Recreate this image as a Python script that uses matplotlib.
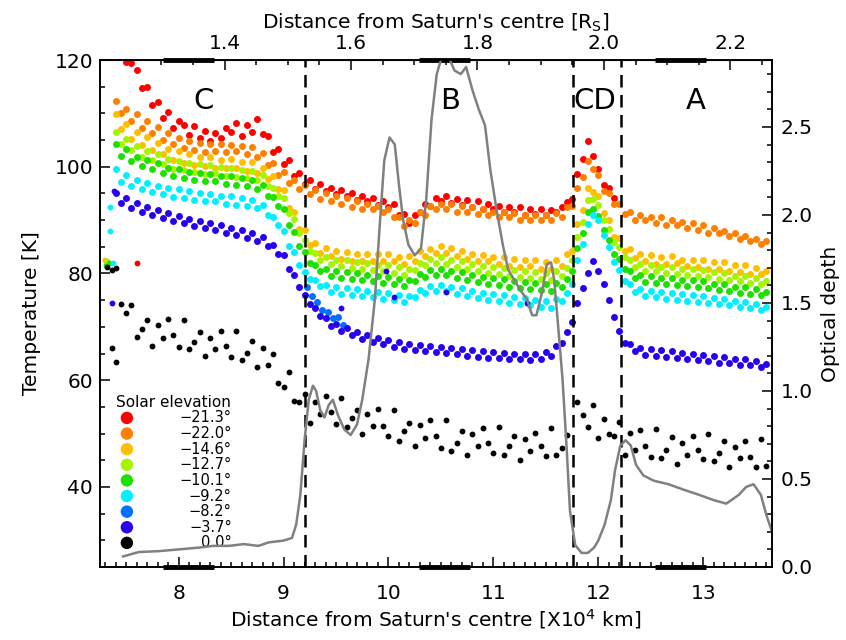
import numpy as np, matplotlib; matplotlib.use("Agg")
import matplotlib.pyplot as plt
from matplotlib.ticker import MultipleLocator, FixedLocator, FormatStrFormatter

nan = float("nan")
RS = 6.0268  # Saturn radius in 10^4 km

# ring-plane distance grid [10^4 km]
dist = [7.40, 7.45, 7.50, 7.55, 7.60, 7.65, 7.70, 7.75, 7.80, 7.85,
        7.90, 7.95, 8.00, 8.05, 8.10, 8.15, 8.20, 8.25, 8.30, 8.35,
        8.40, 8.45, 8.50, 8.55, 8.60, 8.65, 8.70, 8.75, 8.80, 8.85,
        8.90, 8.95, 9.00, 9.05, 9.10, 9.15, 9.20, 9.25, 9.30, 9.35,
        9.40, 9.45, 9.50, 9.55, 9.60, 9.65, 9.70, 9.75, 9.80, 9.85,
        9.90, 9.95, 10.00, 10.05, 10.10, 10.15, 10.20, 10.25, 10.30, 10.35,
        10.40, 10.45, 10.50, 10.55, 10.60, 10.65, 10.70, 10.75, 10.80, 10.85,
        10.90, 10.95, 11.00, 11.05, 11.10, 11.15, 11.20, 11.25, 11.30, 11.35,
        11.40, 11.45, 11.50, 11.55, 11.60, 11.65, 11.70, 11.75, 11.80, 11.85,
        11.90, 11.95, 12.00, 12.05, 12.10, 12.15, 12.20, 12.25, 12.30, 12.35,
        12.40, 12.45, 12.50, 12.55, 12.60, 12.65, 12.70, 12.75, 12.80, 12.85,
        12.90, 12.95, 13.00, 13.05, 13.10, 13.15, 13.20, 13.25, 13.30, 13.35,
        13.40, 13.45, 13.50, 13.55, 13.60]

elev = [-21.3, -22.0, -14.6, -12.7, -10.1, -9.2, -8.2, -3.7, 0.0]
colors = ["#ff0000", "#ff7f00", "#ffbf00", "#a6f500", "#1ee000",
          "#00f0ff", "#0070ff", "#2800f0", "#000000"]

t_213 = [nan, 121.8, 119.6, 119.5, 118.2, 114.7, 114.9, 111.6, 112.2, 109.1,
         110.3, 107.2, 108.6, 107.9, 106.0, 107.6, 105.4, 106.7, 104.8, 106.3,
         105.4, 107.3, 106.5, 108.2, 105.7, 107.9, 106.6, 108.9, 106.2, 105.8,
         102.8, 103.4, 100.6, 101.3, 98.3, 98.9, 96.8, 97.6, 95.9, 96.7,
         95.4, 96.1, 94.8, 95.6, 94.5, 95.1, 93.8, 94.6, 93.5, 94.2,
         92.9, 93.6, 92.4, 93.1, 91.0, 91.2, 89.4, 90.9, 91.5, 93.0,
         92.6, 94.1, 93.5, 94.6, 93.2, 94.0, 92.9, 93.7, 92.5, 93.5,
         92.0, 93.1, 92.1, 92.6, 91.5, 92.5, 91.6, 92.4, 91.0, 92.1,
         91.1, 92.0, 91.0, 91.9, 91.6, 92.5, 93.4, 94.0, 98.6, 101.5,
         104.8, 102.0, 99.5, 96.6, 96.0, 94.1, nan, nan, nan, nan,
         nan, nan, nan, nan, nan, nan, nan, nan, nan, nan,
         nan, nan, nan, nan, nan, nan, nan, nan, nan, nan,
         nan, nan, nan, nan, nan]

t_220 = [112.4, 110.1, 110.9, 108.6, 109.8, 107.2, 108.6, 106.3, 107.5, 105.1,
         106.3, 104.2, 105.4, 103.6, 104.9, 103.1, 104.4, 102.7, 104.2, 103.0,
         104.3, 102.8, 104.1, 102.9, 103.8, 102.3, 103.7, 101.8, 102.6, 100.4,
         100.7, 98.4, 99.1, 96.9, 97.6, 95.9, 96.6, 94.9, 95.6, 94.0,
         95.1, 93.5, 94.6, 93.0, 94.1, 92.5, 93.5, 92.0, 93.1, 92.0,
         92.6, 91.5, 92.1, 90.5, 90.6, 88.9, 90.1, 89.5, 91.6, 91.0,
         92.6, 92.0, 93.1, 92.0, 93.0, 91.5, 92.6, 91.5, 92.5, 91.1,
         92.0, 91.0, 91.6, 90.5, 91.5, 90.6, 91.4, 90.0, 91.0, 90.0,
         91.0, 90.1, 91.0, 90.0, 91.4, 90.6, 92.5, 92.6, 96.0, 98.1,
         101.0, 99.6, 98.5, 95.5, 95.0, 93.1, 93.0, 91.1, 91.5, 90.1,
         91.0, 90.1, 90.5, 89.5, 90.6, 89.1, 90.1, 89.0, 89.6, 88.5,
         89.5, 88.1, 89.0, 87.5, 88.5, 87.6, 88.0, 87.0, 87.5, 86.5,
         87.0, 86.1, 86.4, 85.5, 86.0]

t_146 = [109.8, 107.1, 108.0, 105.2, 106.6, 104.1, 105.6, 103.2, 104.4, 102.3,
         103.4, 101.2, 102.9, 100.7, 102.4, 100.3, 101.8, 100.2, 101.9, 99.8,
         101.3, 99.7, 101.4, 99.8, 100.9, 99.2, 100.8, 98.8, 99.7, 97.7,
         98.3, 95.8, 95.7, 92.3, 91.6, 88.3, 88.2, 85.3, 85.7, 83.8,
         84.7, 83.3, 84.2, 82.8, 84.1, 82.3, 83.7, 82.4, 83.6, 82.3,
         83.7, 82.4, 83.6, 82.3, 83.1, 81.8, 83.2, 82.3, 84.2, 83.3,
         84.6, 83.8, 85.1, 83.8, 84.7, 83.3, 84.2, 82.8, 83.6, 82.3,
         83.5, 82.3, 83.1, 81.8, 83.1, 81.4, 82.7, 81.3, 82.6, 81.4,
         82.5, 80.9, 82.1, 80.8, 82.6, 81.4, 83.6, 84.3, 89.2, 91.8,
         96.1, 95.3, 94.6, 91.3, 90.1, 86.8, 86.6, 84.3, 84.6, 82.9,
         83.6, 82.3, 83.5, 81.8, 83.1, 81.8, 83.2, 81.9, 82.6, 81.4,
         82.5, 81.3, 82.6, 80.9, 82.1, 80.8, 82.1, 80.4, 81.6, 80.3,
         81.5, 79.9, 81.1, 79.9, 80.4]

t_127 = [106.5, 104.3, 105.2, 103.1, 103.8, 101.9, 103.0, 101.2, 102.3, 100.6,
         101.5, 99.6, 101.1, 99.4, 100.7, 99.0, 100.5, 98.7, 100.3, 98.9,
         99.9, 98.3, 99.8, 98.1, 99.4, 97.9, 99.2, 97.6, 98.4, 96.4,
         96.1, 94.6, 94.2, 91.4, 90.3, 87.6, 86.3, 84.2, 83.9, 82.6,
         83.1, 81.7, 82.6, 81.4, 82.5, 81.0, 82.1, 80.8, 81.9, 80.6,
         81.6, 80.4, 81.5, 80.1, 81.2, 79.8, 80.9, 80.6, 82.0, 81.5,
         82.8, 81.9, 83.1, 81.8, 82.6, 81.2, 82.3, 80.9, 81.8, 80.5,
         81.4, 80.1, 81.2, 79.9, 81.0, 79.6, 80.6, 79.4, 80.5, 79.2,
         80.3, 79.0, 80.1, 78.8, 80.4, 79.6, 81.0, 82.5, 86.9, 89.6,
         93.8, 94.0, 92.8, 90.0, 88.4, 85.9, 84.9, 83.0, 82.6, 81.2,
         81.8, 80.5, 81.6, 80.4, 81.3, 80.1, 81.2, 79.9, 80.9, 79.7,
         80.8, 79.5, 80.6, 79.3, 80.2, 79.0, 80.1, 78.8, 79.6, 78.5,
         79.5, 78.3, 79.1, 78.0, 78.6]

t_101 = [104.2, 102.1, 103.3, 101.0, 101.9, 100.1, 101.3, 99.6, 100.7, 98.9,
         99.8, 98.2, 99.5, 97.9, 99.1, 97.6, 98.9, 97.3, 98.7, 97.4,
         98.3, 96.8, 98.2, 96.6, 97.8, 96.3, 97.5, 95.9, 96.6, 94.6,
         94.3, 92.6, 92.0, 89.1, 87.8, 85.2, 84.0, 82.0, 81.6, 80.4,
         80.9, 79.6, 80.5, 79.2, 80.3, 78.9, 80.0, 78.7, 79.8, 78.5,
         79.5, 78.3, 79.3, 78.0, 79.0, 77.7, 78.8, 78.5, 79.9, 79.4,
         80.6, 79.8, 80.9, 79.7, 80.5, 79.1, 80.2, 78.8, 79.7, 78.4,
         79.3, 78.0, 79.1, 77.8, 78.9, 77.5, 78.5, 77.3, 78.4, 77.1,
         78.2, 76.9, 78.0, 76.8, 78.3, 77.5, 78.9, 80.4, 84.8, 87.5,
         91.6, 92.0, 90.8, 88.1, 86.3, 83.7, 82.8, 80.9, 80.5, 79.1,
         79.7, 78.4, 79.5, 78.3, 79.2, 78.0, 79.1, 77.8, 78.8, 77.6,
         78.7, 77.4, 78.5, 77.2, 78.1, 76.9, 78.0, 76.7, 77.5, 76.4,
         77.4, 76.2, 77.0, 75.9, 76.5]

t_92 = [99.5, 97.2, 98.4, 96.3, 97.5, 95.8, 96.9, 95.2, 96.4, 94.9,
        96.0, 94.4, 95.8, 94.1, 95.4, 93.8, 95.1, 93.6, 94.9, 93.5,
        94.6, 93.1, 94.5, 92.9, 94.1, 92.6, 93.8, 92.2, 92.9, 91.0,
        90.6, 89.0, 88.0, 85.2, 84.0, 81.5, 80.3, 79.0, 78.8, 77.6,
        77.9, 76.6, 77.5, 76.2, 77.3, 75.9, 77.0, 75.7, 76.8, 75.5,
        76.5, 75.3, 76.3, 75.0, 76.0, 74.7, 75.8, 75.5, 76.9, 76.4,
        77.6, 76.8, 77.9, 76.7, 77.5, 76.1, 77.2, 75.8, 76.7, 75.4,
        76.3, 75.0, 76.1, 74.8, 75.9, 74.5, 75.5, 74.3, 75.4, 74.1,
        75.0, 73.7, 74.8, 73.6, 75.3, 74.8, 76.4, 78.1, 82.6, 85.6,
        89.2, 91.0, 90.1, 87.2, 85.0, 82.1, 80.6, 78.6, 78.0, 76.5,
        77.0, 75.7, 76.8, 75.6, 76.5, 75.3, 76.4, 75.1, 76.1, 74.9,
        76.0, 74.7, 75.8, 74.5, 75.4, 74.2, 75.3, 74.0, 74.8, 73.7,
        74.7, 73.5, 74.3, 73.2, 73.8]

t_37 = [95.0, 93.2, 94.1, 92.3, 93.2, 91.6, 92.5, 91.0, 91.9, 90.4,
        91.3, 89.9, 90.8, 89.4, 90.3, 88.9, 89.9, 88.5, 89.5, 88.2,
        89.1, 87.6, 88.6, 87.2, 88.1, 86.7, 87.5, 86.1, 86.8, 85.2,
        85.3, 83.6, 83.4, 80.9, 79.8, 77.4, 76.0, 74.3, 73.6, 72.0,
        71.6, 70.2, 70.5, 69.3, 69.7, 68.4, 69.0, 67.8, 68.5, 67.2,
        67.9, 66.7, 67.5, 66.3, 67.1, 65.9, 66.8, 65.7, 66.6, 65.5,
        66.4, 65.2, 66.3, 65.1, 66.0, 64.9, 65.8, 64.6, 65.6, 64.4,
        65.4, 64.2, 65.2, 64.1, 65.1, 63.9, 65.0, 63.9, 64.9, 63.8,
        65.0, 64.0, 65.3, 64.6, 66.4, 66.9, 69.1, 71.0, 74.5, 77.2,
        80.1, 82.3, 80.4, 78.0, 75.1, 71.8, 69.2, 67.0, 66.7, 65.4,
        66.0, 64.8, 65.8, 64.6, 65.6, 64.4, 65.4, 64.2, 65.1, 64.0,
        65.0, 63.8, 64.8, 63.6, 64.5, 63.3, 64.4, 63.2, 64.0, 62.9,
        63.9, 62.8, 63.6, 62.5, 63.1]

t_00 = [81.0, 74.3, 72.6, 74.0, 68.1, 69.6, 71.2, 66.4, 70.3, 68.0,
        71.4, 68.5, 66.3, 71.3, 65.8, 67.1, 69.0, 64.6, 67.9, 65.8,
        69.3, 66.4, 64.3, 69.2, 63.8, 65.1, 67.3, 62.5, 66.0, 62.8,
        64.9, 59.5, 58.8, 61.5, 56.1, 56.0, 57.5, 52.0, 55.9, 53.6,
        57.1, 54.0, 51.8, 56.7, 51.3, 53.0, 54.5, 50.0, 53.6, 51.4,
        54.6, 51.5, 49.5, 54.4, 48.6, 50.5, 52.0, 47.6, 51.6, 49.2,
        52.5, 49.5, 47.3, 52.6, 46.7, 48.3, 50.5, 46.0, 50.0, 47.7,
        51.0, 48.3, 46.4, 51.3, 45.9, 47.6, 49.6, 45.0, 48.9, 46.8,
        50.1, 47.6, 45.8, 51.1, 46.0, 47.3, 49.8, nan, 56.0, 53.5,
        51.2, 55.3, 49.1, 52.8, 50.0, 49.6, 52.1, 46.0, 50.2, 47.0,
        50.6, 47.6, 45.7, 50.9, 45.4, 47.0, 49.3, 44.3, 48.2, 46.0,
        49.6, 47.0, 45.2, 50.0, 44.9, 46.4, 48.6, 43.7, 47.5, 45.5,
        48.6, 45.7, 43.8, 49.0, 44.0]

# the -8.2 deg scan is only seen at the C/B transition
x_82 = [9.22, 9.27, 9.32, 9.37, 9.42, 9.47, 9.52, 9.57]
t_82 = [77.5, 75.8, 74.6, 73.2, 72.8, 71.6, 71.9, 70.4]

# isolated points (index into elev/colors)
stray_x = [7.30, 7.31, 7.32, 7.34, 7.32, 7.36, 7.35, 7.35, 7.37, 7.38, 7.36, 7.60,
           9.55, 9.98, 10.05, 10.55, 11.32, 7.36, 7.40]
stray_t = [82.5, 81.5, 82.3, 82.0, 81.2, 80.6, 88.0, 92.5, 82.0, 95.5, 74.5, 82.0,
           73.5, 80.5, 75.5, 76.5, 74.5, 66.0, 63.5]
stray_c = [2, 4, 3, 4, 8, 8, 5, 5, 5, 7, 7, 0, 7, 7, 7, 7, 7, 8, 8]

# ring optical depth profile
tau_x = [7.47, 7.62, 7.81, 8.00, 8.19, 8.33, 8.48, 8.62, 8.76, 8.86, 9.00, 9.08, 9.12,
         9.16, 9.20, 9.24, 9.28, 9.31, 9.35, 9.39, 9.43, 9.47, 9.52, 9.58, 9.64, 9.70,
         9.75, 9.81, 9.87, 9.92, 9.96, 10.01, 10.06, 10.10, 10.14, 10.19, 10.25, 10.31,
         10.36, 10.41, 10.46, 10.51, 10.57, 10.63, 10.69, 10.74, 10.80, 10.86, 10.92,
         10.97, 11.03, 11.09, 11.14, 11.20, 11.26, 11.32, 11.37, 11.41, 11.46, 11.51,
         11.55, 11.58, 11.62, 11.66, 11.70, 11.73, 11.78, 11.84, 11.90, 11.96, 12.00,
         12.06, 12.12, 12.16, 12.21, 12.26, 12.31, 12.36, 12.43, 12.53, 12.67, 12.81,
         12.96, 13.10, 13.22, 13.34, 13.41, 13.48, 13.55, 13.60, 13.65]
tau = [0.06, 0.085, 0.09, 0.10, 0.11, 0.12, 0.12, 0.13, 0.12, 0.14, 0.15, 0.165, 0.24,
       0.41, 0.72, 0.95, 1.03, 1.00, 0.89, 0.85, 0.92, 0.95, 0.86, 0.78, 0.75, 0.81,
       0.95, 1.18, 1.52, 1.97, 2.31, 2.44, 2.40, 2.17, 1.97, 1.83, 1.77, 1.81,
       2.09, 2.54, 2.80, 2.90, 2.90, 2.82, 2.80, 2.84, 2.71, 2.60, 2.51,
       2.26, 2.03, 1.83, 1.69, 1.63, 1.57, 1.52, 1.43, 1.43, 1.55, 1.72,
       1.73, 1.63, 1.35, 1.06, 0.66, 0.32, 0.125, 0.08, 0.08, 0.11, 0.15,
       0.24, 0.38, 0.55, 0.69, 0.72, 0.69, 0.58, 0.52, 0.49, 0.47, 0.44,
       0.41, 0.38, 0.36, 0.41, 0.455, 0.47, 0.41, 0.30, 0.21]

ring_edges = [9.20, 11.758, 12.217]
ring_names = ["C", "B", "CD", "A"]
ring_label_x = [8.24, 10.59, 11.97, 12.93]
seg_start = [7.85, 10.29, 12.54]
seg_end = [8.34, 10.78, 13.03]
rs_ticks = [1.4, 1.6, 1.8, 2.0, 2.2]

temps = [t_213, t_220, t_146, t_127, t_101, t_92, None, t_37, t_00]

plt.rcParams["font.family"] = "DejaVu Sans"
fig = plt.figure(figsize=(8.46, 6.4), dpi=100)
ax = fig.add_axes([100 / 846, 73 / 640, 672 / 846, 507 / 640])

for i, t in enumerate(temps):
    ms = 4.2 if i == 8 else 5
    if t is None:
        ax.plot(x_82, t_82, "o", ms=ms, mec="none", color=colors[i])
    else:
        ax.plot(dist, t, "o", ms=ms, mec="none", color=colors[i])
for x, t, c in zip(stray_x, stray_t, stray_c):
    ax.plot(x, t, "o", ms=4.2, mec="none", color=colors[c])

ax.set_xlim(7.25, 13.656)
ax.set_ylim(25, 120)
for e in ring_edges:
    ax.axvline(e, color="black", lw=1.8, ls=(0, (5, 3)), zorder=5)
for name, x in zip(ring_names, ring_label_x):
    ax.text(x, 112.3, name, ha="center", va="center", fontsize=21)
trans = ax.get_xaxis_transform()
for a, b in zip(seg_start, seg_end):
    for yy in (0, 1):
        ax.plot([a, b], [yy, yy], color="black", lw=3.5, transform=trans,
                clip_on=False, solid_capstyle="butt", zorder=6)

ax.set_xlabel("Distance from Saturn's centre [X10$^4$ km]", fontsize=14.5, labelpad=3)
ax.set_ylabel("Temperature [K]", fontsize=14.5, labelpad=10)
ax.xaxis.set_major_locator(MultipleLocator(1))
ax.xaxis.set_minor_locator(MultipleLocator(0.1))
ax.yaxis.set_major_locator(MultipleLocator(20))
ax.yaxis.set_minor_locator(MultipleLocator(5))
ax.tick_params(which="both", direction="in", labelsize=14.5, width=1.1,
               top=False, right=False)
ax.tick_params(which="major", length=7)
ax.tick_params(which="minor", length=3.5)
ax.tick_params(axis="x", pad=12)
ax.tick_params(axis="y", pad=5)
for s in ax.spines.values():
    s.set_linewidth(1.2)

sec = ax.secondary_xaxis("top", functions=(lambda x: x / RS, lambda r: r * RS))
sec.xaxis.set_major_locator(FixedLocator(rs_ticks))
sec.xaxis.set_minor_locator(MultipleLocator(0.05))
sec.xaxis.set_major_formatter(FormatStrFormatter("%.1f"))
sec.tick_params(which="both", direction="in", labelsize=14.5, width=1.1, pad=5)
sec.tick_params(which="major", length=7)
sec.tick_params(which="minor", length=3.5)
sec.set_xlabel("Distance from Saturn's centre [R$_\\mathrm{S}$]", fontsize=14.5, labelpad=4)

ax2 = ax.twinx()
ax2.plot(tau_x, tau, color="#808080", lw=1.8)
ax2.set_ylim(0.0, 2.88)
ax2.yaxis.set_major_locator(MultipleLocator(0.5))
ax2.yaxis.set_minor_locator(MultipleLocator(0.1))
ax2.yaxis.set_major_formatter(FormatStrFormatter("%.1f"))
ax2.tick_params(which="both", direction="in", labelsize=14.5, width=1.1, pad=6)
ax2.tick_params(which="major", length=7)
ax2.tick_params(which="minor", length=3.5)
ax2.set_ylabel("Optical depth", fontsize=14.5, labelpad=6)
for s in ax2.spines.values():
    s.set_linewidth(1.2)

# legend drawn by hand: dots on the left, right-aligned labels
ax.text(0.024, 0.325, "Solar elevation", transform=ax.transAxes, fontsize=11,
        ha="left", va="center")
for k, (e, c) in enumerate(zip(elev, colors)):
    yk = 0.294 - k * 0.0308
    ax.scatter([0.040], [yk], s=80, color=c, transform=ax.transAxes, zorder=7,
               edgecolors="none")
    lab = f"{e:.1f}°".replace("-", "\u2212")
    ax.text(0.196, yk, lab, transform=ax.transAxes, fontsize=10.5, ha="right", va="center")

fig.savefig("out.png", dpi=100)
